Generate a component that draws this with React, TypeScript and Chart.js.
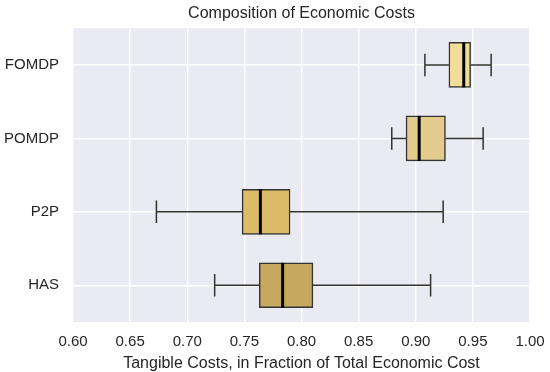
import React, { useEffect, useRef } from "react";
import { Chart, registerables } from "chart.js";

Chart.register(...registerables);

const categories = ["FOMDP", "POMDP", "P2P", "HAS"];
const whiskerLow = [0.908, 0.879, 0.673, 0.724];
const q1Values = [0.929, 0.8915, 0.748, 0.763];
const medianValues = [0.942, 0.903, 0.764, 0.7835];
const q3Values = [0.948, 0.926, 0.79, 0.81];
const whiskerHigh = [0.966, 0.959, 0.924, 0.913];
const boxColors = ["#F1DC9A", "#E2CB8C", "#DABB68", "#C6A95F"];
const xTickValues = [0.6, 0.65, 0.7, 0.75, 0.8, 0.85, 0.9, 0.95, 1.0];

const FONT = "'Liberation Sans', Arial, sans-serif";
const TEXT = "#262626";
const LINE = "#333333";

const bgPlugin = {
  id: "plotBg",
  afterLayout(chart: any) {
    const tb = chart.titleBlock;
    if (tb) {
      tb.left = chart.chartArea.left;
      tb.right = chart.chartArea.right;
    }
  },
  beforeDraw(chart: any) {
    const { ctx, chartArea } = chart;
    ctx.save();
    ctx.fillStyle = "#EAEAF2";
    ctx.fillRect(chartArea.left, chartArea.top, chartArea.right - chartArea.left, chartArea.bottom - chartArea.top);
    ctx.restore();
  },
};

const boxPlugin = {
  id: "whiskers",
  afterDatasetsDraw(chart: any) {
    const { ctx } = chart;
    const xs = chart.scales.x;
    const ys = chart.scales.y;
    const half = 11.25;
    ctx.save();
    categories.forEach((_, i) => {
      const y = ys.getPixelForValue(i);
      const xLo = xs.getPixelForValue(whiskerLow[i]);
      const xQ1 = xs.getPixelForValue(q1Values[i]);
      const xQ3 = xs.getPixelForValue(q3Values[i]);
      const xHi = xs.getPixelForValue(whiskerHigh[i]);
      const xMed = xs.getPixelForValue(medianValues[i]);
      ctx.strokeStyle = LINE;
      ctx.lineWidth = 1.5;
      ctx.beginPath();
      ctx.moveTo(xLo, y);
      ctx.lineTo(xQ1, y);
      ctx.moveTo(xQ3, y);
      ctx.lineTo(xHi, y);
      ctx.moveTo(xLo, y - half);
      ctx.lineTo(xLo, y + half);
      ctx.moveTo(xHi, y - half);
      ctx.lineTo(xHi, y + half);
      ctx.stroke();
      ctx.strokeStyle = "#000000";
      ctx.lineWidth = 3;
      ctx.beginPath();
      ctx.moveTo(xMed, y - 22.5);
      ctx.lineTo(xMed, y + 22.5);
      ctx.stroke();
    });
    ctx.restore();
  },
};

export default function App() {
  const ref = useRef<HTMLCanvasElement | null>(null);
  useEffect(() => {
    if (!ref.current) return;
    const chart = new Chart(ref.current, {
      type: "bar",
      data: {
        labels: categories,
        datasets: [
          {
            data: categories.map((_, i) => [q1Values[i], q3Values[i]]) as any,
            backgroundColor: boxColors,
            borderColor: LINE,
            borderWidth: 1.5,
            borderSkipped: false,
            barThickness: 45,
          },
        ],
      },
      options: {
        indexAxis: "y",
        responsive: false,
        animation: false,
        layout: { padding: { left: 0, right: 20, top: 0, bottom: 0 } },
        plugins: {
          legend: { display: false },
          tooltip: { enabled: false },
          title: {
            display: true,
            text: "Composition of Economic Costs",
            color: TEXT,
            font: { family: FONT, size: 16, weight: "normal", lineHeight: 1.2 },
            padding: { top: 4, bottom: 5 },
          },
        },
        scales: {
          x: {
            type: "linear",
            min: 0.6,
            max: 1.0,
            afterBuildTicks(scale: any) {
              scale.ticks = xTickValues.map((v) => ({ value: v }));
            },
            afterFit(scale: any) {
              scale.height = 50;
              scale.paddingLeft = 0;
              scale.paddingRight = 0;
            },
            grid: { color: "#FFFFFF", lineWidth: 1.4, drawTicks: false },
            border: { display: false },
            ticks: {
              color: TEXT,
              font: { family: FONT, size: 15 },
              padding: 11,
              maxRotation: 0,
              callback: (v: any) => Number(v).toFixed(2),
            },
            title: {
              display: true,
              text: "Tangible Costs, in Fraction of Total Economic Cost",
              color: TEXT,
              font: { family: FONT, size: 16, lineHeight: 1.1 },
              padding: { top: 0, bottom: 0 },
            },
          },
          y: {
            type: "category",
            afterFit(scale: any) {
              scale.width = 73;
              scale.paddingTop = 0;
              scale.paddingBottom = 0;
            },
            grid: { color: "#FFFFFF", lineWidth: 1.4, drawTicks: false, offset: false },
            border: { display: false },
            ticks: {
              color: TEXT,
              font: { family: FONT, size: 15 },
              padding: 14,
            },
          },
        },
      },
      plugins: [bgPlugin, boxPlugin],
    } as any);
    return () => chart.destroy();
  }, []);
  return (
    <div style={{ position: "absolute", left: 0, top: 0, width: 550, height: 372, background: "#fff" }}>
      <canvas ref={ref} width={550} height={372} style={{ width: 550, height: 372 }} />
    </div>
  );
}
